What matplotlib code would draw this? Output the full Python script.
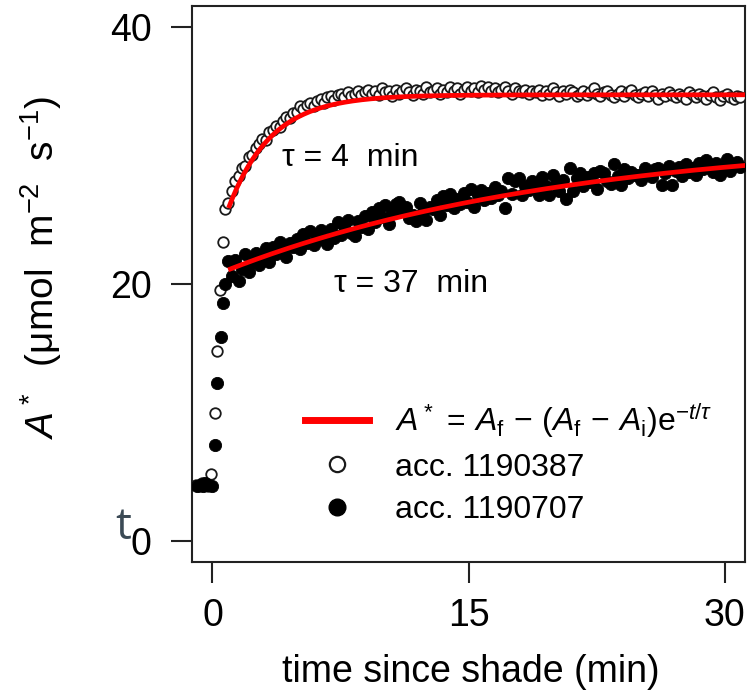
import numpy as np
import matplotlib
matplotlib.use("Agg")
import matplotlib.pyplot as plt
from matplotlib.lines import Line2D

plt.rcParams['font.family'] = ['Liberation Sans', 'DejaVu Sans']
plt.rcParams['mathtext.fontset'] = 'custom'
plt.rcParams['mathtext.rm'] = 'Liberation Sans'
plt.rcParams['mathtext.it'] = 'Liberation Sans:italic'
plt.rcParams['mathtext.bf'] = 'Liberation Sans:bold'

# ---------------- data ----------------
# transition (shade onset) samples, explicit times
open_t_rise = [-0.95, -0.78, -0.62, -0.45, -0.28, -0.08, 0.12, 0.27, 0.43, 0.60, 0.76]
open_v_rise = [4.4, 4.3, 4.5, 4.4, 4.3, 5.25, 10.0, 14.8, 19.5, 23.3, 25.8]
filled_t_rise = [-0.92, -0.75, -0.58, -0.42, -0.25, -0.05, 0.12, 0.27, 0.47, 0.62, 0.76]
filled_v_rise = [4.3, 4.4, 4.3, 4.5, 4.4, 4.3, 7.5, 12.3, 15.9, 18.5, 20.0]

# afterwards, samples every 0.2 min starting at 0.93 min
sample_start = 0.93
sample_step = 0.2
open_values = [
    26.3, 27.2, 28.0, 28.4, 29.0, 29.2, 29.9, 30.0, 30.6, 30.9,
    31.3, 31.2, 31.8, 32.0, 32.3, 32.2, 32.7, 33.0, 32.9, 33.3,
    33.4, 33.8, 33.6, 33.9, 34.1, 33.8, 34.2, 34.4, 34.1, 34.5,
    34.6, 34.3, 34.7, 34.8, 34.5, 34.9, 34.6, 34.8, 35.0, 34.7,
    34.9, 35.1, 34.8, 35.0, 34.7, 35.2, 34.9, 35.0, 34.6, 35.1,
    34.8, 35.0, 35.2, 34.9, 34.7, 35.1, 35.0, 34.8, 35.3, 34.9,
    35.0, 35.2, 34.8, 35.1, 34.9, 35.3, 35.0, 35.2, 34.8, 35.1,
    35.3, 35.0, 35.2, 34.9, 35.4, 35.1, 35.3, 35.0, 35.2, 34.9,
    35.1, 35.3, 35.0, 34.8, 35.2, 35.0, 34.9, 35.1, 34.8, 35.0,
    34.9, 35.1, 34.7, 35.0, 34.8, 35.2, 34.9, 34.6, 35.0, 34.8,
    35.1, 34.9, 34.6, 34.8, 35.0, 34.7, 34.9, 35.2, 34.8, 34.6,
    34.9, 35.0, 34.7, 34.5, 34.8, 35.0, 34.6, 34.9, 35.1, 34.7,
    34.5, 34.8, 34.9, 34.6, 35.0, 34.7, 34.4, 34.8, 34.6, 34.9,
    34.7, 34.5, 34.8, 34.6, 34.4, 34.9, 34.7, 34.5, 34.8, 34.6,
    34.4, 34.7, 34.9, 34.5, 34.3, 34.6, 34.8, 34.5, 34.4, 34.6,
    34.5,
]
filled_values = [
    21.8, 20.6, 21.9, 20.2, 21.2, 22.3, 20.9, 21.7, 22.4, 21.5,
    22.0, 22.8, 21.7, 22.9, 22.3, 23.3, 22.5, 22.1, 23.2, 22.9,
    23.5, 22.7, 23.9, 23.2, 24.1, 23.0, 23.7, 24.2, 23.4, 23.1,
    24.3, 23.6, 24.8, 23.8, 24.5, 25.0, 24.0, 23.7, 24.9, 24.4,
    25.3, 24.3, 25.6, 24.8, 25.9, 25.2, 26.1, 24.7, 25.5, 26.2,
    26.4, 25.7, 26.0, 25.1, 25.4, 24.9, 26.3, 25.6, 25.0, 26.0,
    25.8, 26.5, 25.4, 26.8, 26.1, 27.0, 25.9, 26.6, 26.2, 27.1,
    26.4, 27.4, 26.0, 26.9, 27.3, 26.5, 27.1, 26.7, 27.5, 26.9,
    27.2, 25.9, 28.2, 27.0, 28.0, 28.2, 26.9, 27.6, 27.3, 28.0,
    27.5, 26.9, 28.3, 27.6, 26.9, 28.5, 27.8, 27.2, 28.1, 26.6,
    29.0, 27.2, 28.2, 28.6, 27.6, 28.3, 27.9, 28.6, 27.4, 28.8,
    28.6, 28.0, 27.8, 29.3, 28.4, 27.7, 28.9, 28.2, 28.7, 28.5,
    28.5, 28.1, 29.0, 28.8, 28.3, 28.9, 29.0, 27.7, 28.6, 29.2,
    27.7, 28.8, 29.1, 28.4, 29.3, 28.7, 29.0, 28.5, 29.4, 28.9,
    29.6, 29.0, 28.7, 29.4, 28.5, 29.1, 29.7, 28.8, 29.2, 29.5,
    29.1,
]

# fitted exponential models (as drawn in the figure)
fit_open = {"t0": 0.94, "Ai": 25.9, "Af": 34.7, "tau": 2.5}
fit_filled = {"t0": 0.92, "Ai": 21.1, "Af": 31.5, "tau": 20.0}

legend_labels = [r'$A^*\,=\,A_{\mathrm{f}}\,-\,(A_{\mathrm{f}}\,-\,A_{\mathrm{i}})\mathrm{e}^{-t/\tau}$',
                 'acc. 1190387', 'acc. 1190707']
tau_labels = ['τ = 4  min', 'τ = 37  min']
x_ticks = [0, 15, 30]
y_ticks = [0, 20, 40]

# ---------------- figure ----------------
W, H = 748, 692
fig = plt.figure(figsize=(W / 100, H / 100), dpi=100)
L, R, T, B = 192, 745, 6, 562
ax = fig.add_axes([L / W, 1 - B / H, (R - L) / W, (B - T) / H])

t_open = np.concatenate([open_t_rise, sample_start + sample_step * np.arange(len(open_values))])
v_open = np.concatenate([open_v_rise, open_values])
t_filled = np.concatenate([filled_t_rise, sample_start + sample_step * np.arange(len(filled_values))])
v_filled = np.concatenate([filled_v_rise, filled_values])

ax.plot(t_open, v_open, linestyle='none', marker='o', ms=7.6, mfc='white',
        mec='#1a1a1a', mew=1.3, zorder=3)
ax.plot(t_filled, v_filled, linestyle='none', marker='o', ms=8.8, mfc='black',
        mec='black', mew=0.6, zorder=4)

for fp in (fit_open, fit_filled):
    tt = np.linspace(fp["t0"], 31.5, 400)
    yy = fp["Af"] - (fp["Af"] - fp["Ai"]) * np.exp(-(tt - fp["t0"]) / fp["tau"])
    ax.plot(tt, yy, color='#ff0000', lw=3.4, zorder=5, solid_capstyle='butt')

ax.text(4.05, 29.8, tau_labels[0], fontsize=23, ha='left', va='center')
ax.text(7.1, 20.0, tau_labels[1], fontsize=23, ha='left', va='center')

ax.set_xlim(-1.2, 31.2)
ax.set_ylim(-1.6, 41.6)
ax.set_xticks(x_ticks)
ax.set_yticks(y_ticks)
ax.tick_params(axis='both', direction='out', length=15, width=1.5, labelsize=27, color='#222222')
ax.tick_params(axis='x', pad=11)
ax.tick_params(axis='y', pad=14)
for s in ax.spines.values():
    s.set_linewidth(1.5)
    s.set_color('#222222')

ax.set_xlabel('time since shade (min)', fontsize=27)
ax.xaxis.set_label_coords(0.505, -0.165)
ax.set_ylabel(r'$A^*$  (μmol  m$^{-2}$  s$^{-1}$)', fontsize=28)
ax.yaxis.set_label_coords(-0.232, 0.53)

handles = [
    Line2D([], [], color='#ff0000', lw=5),
    Line2D([], [], linestyle='none', marker='o', ms=11, mfc='white', mec='#1a1a1a', mew=1.6),
    Line2D([], [], linestyle='none', marker='o', ms=12, mfc='black', mec='black'),
]
leg = ax.legend(handles, legend_labels, loc='upper left', bbox_to_anchor=(0.205, 0.29),
                frameon=False, fontsize=23, handlelength=2.0, handletextpad=0.8,
                labelspacing=0.4, borderpad=0, borderaxespad=0)

fig.text(131 / W, 1 - 528 / H, 't', fontsize=32, color='#3b4a55', family='Open Sans',
         ha='right', va='center')

fig.savefig('out.png', dpi=100)
